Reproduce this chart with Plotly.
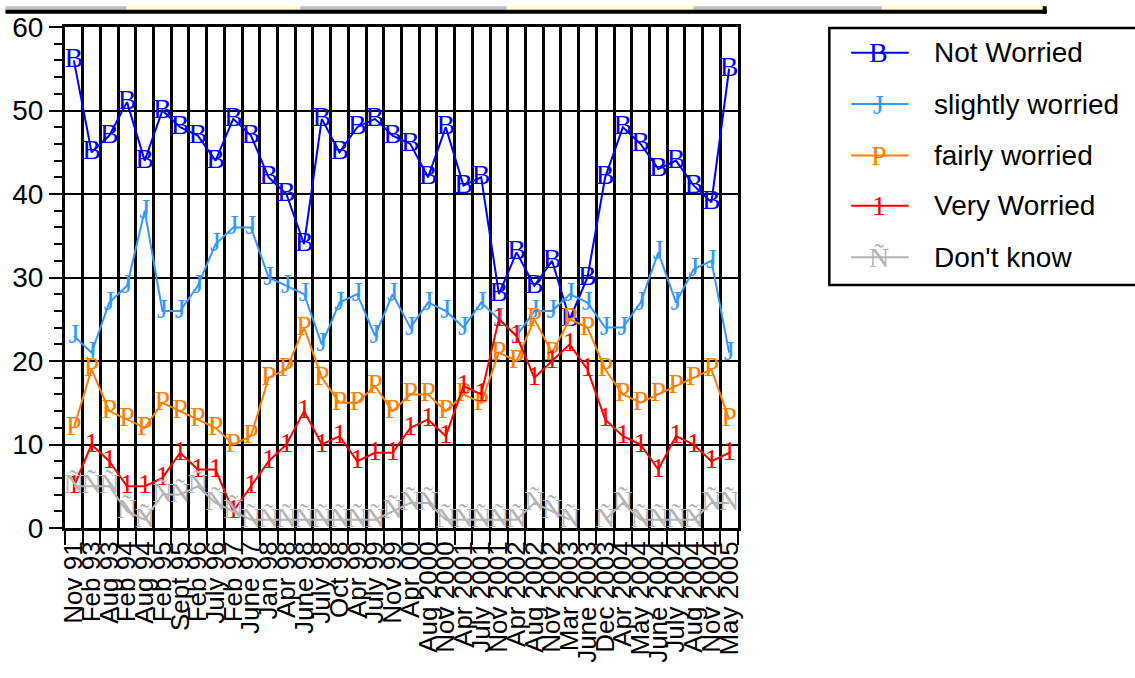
import plotly.graph_objects as go

categories = ["Nov 91", "Feb 93", "Aug 93", "Feb 94", "Aug 94", "Feb 95", "Sept 95", "Feb 96",
              "July 96", "Feb 97", "June 97", "Jan 98", "Apr 98", "June 98", "July 98", "Oct 98",
              "Apr 99", "July 99", "Nov 99", "Apr 00", "Aug 2000", "Nov 2000", "Apr 2001",
              "July 2001", "Nov 2001", "Apr 2002", "Aug 2002", "Nov 2002", "Mar 2003", "June 2003",
              "Dec 2003", "Apr 2004", "May 2004", "June 2004", "July 2004", "Aug 2004", "Nov 2004",
              "May 2005"]

not_worried = [56, 45, 47, 51, 44, 50, 48, 47, 44, 49, 47, 42, 40, 34, 49, 45, 48, 49, 47, 46,
               42, 48, 41, 42, 28, 33, 29, 32, 25, 30, 42, 48, 46, 43, 44, 41, 39, 55]
slightly_worried = [23, 21, 27, 29, 38, 26, 26, 29, 34, 36, 36, 30, 29, 28, 22, 27, 28, 23, 28, 24,
                    27, 26, 24, 27, 25, 23, 26, 26, 28, 27, 24, 24, 27, 33, 27, 31, 32, 21]
fairly_worried = [12, 19, 14, 13, 12, 15, 14, 13, 12, 10, 11, 18, 19, 24, 18, 15, 15, 17, 14, 16,
                  16, 14, 16, 15, 21, 20, 25, 21, 25, 24, 19, 16, 15, 16, 17, 18, 19, 13]
very_worried = [5, 10, 8, 5, 5, 6, 9, 7, 7, 2, 5, 8, 10, 14, 10, 11, 8, 9, 9, 12,
                13, 11, 17, 16, 25, 23, 18, 20, 22, 19, 13, 11, 10, 7, 11, 10, 8, 9]
dont_know = [5, 5, 5, 2, 1, 4, 4, 5, 3, 2, 1, 1, 1, 1, 1, 1, 1, 1, 2, 3,
             3, 1, 1, 1, 1, 1, 3, 2, 1, None, 1, 3, 1, 1, 1, 1, 3, 3]

series_names = ["Not Worried", "slightly worried", "fairly worried", "Very Worried", "Don't know"]
series_values = [not_worried, slightly_worried, fairly_worried, very_worried, dont_know]
series_colors = ["#0000FF", "#3399FF", "#FF8000", "#FF0000", "#B4B4B4"]
series_glyphs = ["B", "J", "P", "1", "Ñ"]

W, H = 1135, 678
L, R, T, B = 60, 738, 21, 528


def px(x):
    return (x - L) / (R - L)


def py(y):
    return (B - y) / (B - T)


fig = go.Figure()
for name, vals, col, g in zip(series_names, series_values, series_colors, series_glyphs):
    fig.add_trace(go.Scatter(
        x=categories, y=vals, name=name, mode="lines+text",
        text=[g] * len(vals), textposition="middle center",
        textfont=dict(family="Liberation Serif", size=28, color=col),
        line=dict(color=col, width=2), showlegend=False, connectgaps=False,
        cliponaxis=False,
    ))

shapes = []
annotations = []

# legend box
shapes.append(dict(type="rect", xref="paper", yref="paper", x0=px(830), x1=px(1145),
                   y0=py(282), y1=py(22), line=dict(color="black", width=2.5),
                   fillcolor="white", layer="above"))
entry_y = [47, 99, 151, 202, 254]
for name, col, g, ey in zip(series_names, series_colors, series_glyphs, entry_y):
    shapes.append(dict(type="line", xref="paper", yref="paper", x0=px(852), x1=px(910),
                       y0=py(ey), y1=py(ey), line=dict(color=col, width=2), layer="above"))
    annotations.append(dict(xref="paper", yref="paper", x=px(880), y=py(ey), text=g,
                            showarrow=False, xanchor="center", yanchor="middle",
                            font=dict(family="Liberation Serif", size=28, color=col)))
    annotations.append(dict(xref="paper", yref="paper", x=px(933), y=py(ey), text=name,
                            showarrow=False, xanchor="left", yanchor="middle",
                            font=dict(family="Liberation Sans", size=28, color="black")))

# top strip (cropped toolbar remnant)
segs = [(0, 122, "#C0C0C0"), (122, 297, "#FFFFC8"), (297, 505, "#C0C0C0"),
        (505, 693, "#FFFFC8"), (693, 883, "#C0C0C0"), (883, 1045, "#FFFFC8")]
for x0, x1, c in segs:
    shapes.append(dict(type="rect", xref="paper", yref="paper", x0=px(x0), x1=px(x1),
                       y0=py(3.5), y1=py(0), line=dict(width=0), fillcolor=c, layer="above"))
shapes.append(dict(type="rect", xref="paper", yref="paper", x0=px(0), x1=px(1049),
                   y0=py(7.5), y1=py(3.5), line=dict(width=0), fillcolor="black", layer="above"))
shapes.append(dict(type="rect", xref="paper", yref="paper", x0=px(1045), x1=px(1049),
                   y0=py(7.5), y1=py(0), line=dict(width=0), fillcolor="black", layer="above"))

fig.update_layout(
    width=W, height=H, autosize=False,
    margin=dict(l=L, r=W - R, t=T, b=H - B, pad=0),
    paper_bgcolor="white", plot_bgcolor="white",
    shapes=shapes, annotations=annotations,
    xaxis=dict(
        type="category", categoryorder="array", categoryarray=categories,
        range=[-0.5, len(categories) - 0.5], tickson="boundaries",
        tickmode="array", tickvals=categories, ticktext=categories,
        showgrid=True, gridcolor="black", gridwidth=2.5,
        ticks="outside", ticklen=14, tickwidth=2, tickcolor="black",
        tickangle=-90, tickfont=dict(family="Liberation Sans", size=26, color="black"),
        showline=True, linecolor="black", linewidth=3, mirror=True, zeroline=False,
    ),
    yaxis=dict(
        range=[0, 60], tick0=0, dtick=10,
        showgrid=True, gridcolor="black", gridwidth=2,
        ticks="outside", ticklen=13, tickwidth=2, tickcolor="black",
        tickfont=dict(family="Liberation Sans", size=28, color="black"),
        minor=dict(dtick=2, ticks="outside", ticklen=8, tickwidth=2, tickcolor="black",
                   showgrid=False),
        showline=True, linecolor="black", linewidth=3, mirror=True, zeroline=False,
    ),
)

fig.write_html("out.html", config={"displayModeBar": False},
               post_script="document.body.style.margin='0';")
